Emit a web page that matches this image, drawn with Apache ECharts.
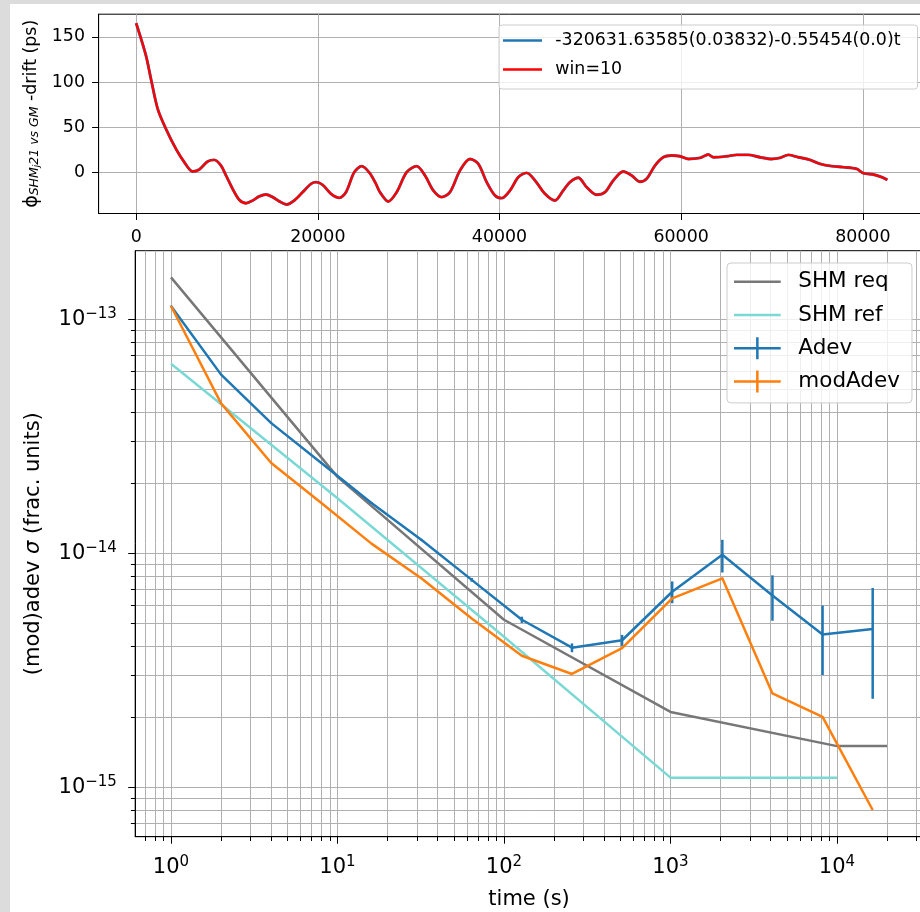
<!DOCTYPE html>
<html><head><meta charset="utf-8">
<script src="https://cdn.jsdelivr.net/npm/echarts@6/dist/echarts.min.js"></script>
<style>
html,body{margin:0;padding:0;background:#dcdcdc;overflow:hidden;}
#paper{position:absolute;left:10px;top:4px;width:910px;height:908px;background:#fff;}
#chart{position:absolute;left:0;top:0;width:920px;height:912px;}
</style></head><body><div id="paper"></div><div id="chart"></div>
<script>
// ---- top panel: phase minus drift (ps) vs time (s)
const driftT = [0,1080,1630,2370,3280,4380,5300,6220,6950,7870,8600,9340,9890,10620,11350,12090,12830,13550,14290,15030,15760,16570,17410,18330,19250,19800,20530,21450,22360,23100,24010,24830,25700,26400,26840,27760,28680,29780,30880,31800,32710,33640,34550,35650,36750,37670,38590,39500,40240,41160,42070,42990,43910,45010,46110,47020,47760,48680,49600,50700,51620,52530,53630,54550,55470,56200,57120,58030,58960,59870,60790,62080,62990,63540,65010,66120,67390,68680,69970,70880,71800,72900,74180,75290,76570,77850,79330,80050,81160,82080,82700];
const driftPhi = [165.2,129.4,103.5,70.4,48.2,26.1,11.4,1.1,3.3,12.2,14.0,7.7,-3.3,-18.1,-30.3,-34.0,-31.0,-26.5,-24.3,-27.3,-32.0,-35.4,-31.0,-21.8,-12.6,-10.7,-13.7,-23.6,-28.1,-21.8,0.3,7.0,-0.5,-12.6,-21.8,-32.1,-21.8,0.3,7.0,-3.3,-19.9,-27.3,-21.8,2.2,15.0,9.5,-10.7,-25.4,-28.4,-19.9,-5.2,-0.4,-8.8,-23.6,-31.0,-19.9,-10.7,-5.9,-16.3,-24.7,-21.8,-8.8,1.1,-3.3,-10.3,-7.0,7.7,16.9,18.8,18.0,15.0,16.2,19.9,16.9,18.0,19.5,19.5,16.9,15.0,16.2,19.5,16.9,14.0,9.5,7.0,5.9,4.0,-0.8,-2.2,-5.2,-8.2];
const fitLabel = '-320631.63585(0.03832)-0.55454(0.0)t';
const winLabel = 'win=10';
const topXTicks = [0,20000,40000,60000,80000];
const topYTicks = [0,50,100,150];

// ---- bottom panel: (mod)adev vs tau
const tau = [1,2,4,8,16,32,64,128,256,512,1024,2048,4096,8192,16384];
const adev = [1.14e-13,5.8e-14,3.6e-14,2.43e-14,1.64e-14,1.14e-14,7.7e-15,5.2e-15,3.95e-15,4.25e-15,6.85e-15,9.85e-15,6.6e-15,4.5e-15,4.75e-15];
const adevErr = [0.3e-15,0.2e-15,0.2e-15,0.15e-15,0.15e-15,0.12e-15,0.14e-15,0.16e-15,0.17e-15,0.23e-15,0.73e-15,1.57e-15,1.45e-15,1.48e-15,2.36e-15];
const modAdev = [1.14e-13,4.37e-14,2.43e-14,1.64e-14,1.1e-14,7.8e-15,5.27e-15,3.65e-15,3.05e-15,3.93e-15,6.42e-15,7.82e-15,2.52e-15,2.0e-15,8.0e-16];
const reqTau = [1,10,100,1000,10000,20000];
const reqVal = [1.51e-13,2.12e-14,5.2e-15,2.1e-15,1.5e-15,1.5e-15];
const refTau = [1,10,100,1000,10000];
const refVal = [6.45e-14,1.72e-14,4.4e-15,1.1e-15,1.1e-15];
const xDecades = [0,1,2,3,4];
const yDecades = [-15,-14,-13];

const FONT = 'DejaVu Sans';
const L = Math.log10;
const xMin = -0.215, xMax = 4.516, yMin = -15.211, yMax = -12.707;

function minorList(nFrom, nTo){ const r=[]; for(let n=nFrom;n<=nTo;n++){ for(let k=2;k<=9;k++) r.push(n+L(k)); } return r; }
const xMinor = minorList(-1,4).filter(v=>v>=xMin&&v<=xMax);
const yMinor = minorList(-16,-13).filter(v=>v>=yMin&&v<=yMax);

function powLabel(v){
  const e = Math.round(v);
  const s = e < 0 ? '\u2212' + (-e) : '' + e;
  return '{b|10}{s|' + s + '}';
}
const powRich = {
  b:{fontFamily:FONT,fontSize:21,lineHeight:26,color:'#000'},
  s:{fontFamily:FONT,fontSize:15,lineHeight:15,padding:[0,0,11,0],color:'#000'}
};

const gridLine = {show:true,lineStyle:{color:'#b0b0b0',width:1}};
const blackLine = {show:true,onZero:false,lineStyle:{color:'#000',width:1}};

const lineIconTop = 'path://M0,0M47.3,14M0,5.75H39V8.25H0Z';
const lineIconBot = 'path://M0,0M59.3,22M0,9.75H46.7V12.25H0Z';
const crossIconBot = 'path://M0,0M59.3,22M0,9.75H22.1V0H24.6V9.75H46.7V12.25H24.6V22H22.1V12.25H0Z';

const C_REQ='#777777', C_REF='#7ad9d5', C_ADEV='#1f77b4', C_MOD='#ff7f0e';

const option = {
  animation:false,
  textStyle:{fontFamily:FONT},
  grid:[
    {left:98.6,top:14.2,width:826.3,height:199.3,show:true,borderColor:'#000',borderWidth:1,backgroundColor:'transparent',outerBoundsMode:'none',containLabel:false},
    {left:135.2,top:250.7,width:787.7,height:586,show:true,borderColor:'#000',borderWidth:1,backgroundColor:'transparent',outerBoundsMode:'none',containLabel:false}
  ],
  xAxis:[
    {type:'value',gridIndex:0,min:-4135,max:86835,position:'bottom',
     axisLine:blackLine,axisTick:{show:true,length:6.5,lineStyle:{color:'#000'},customValues:topXTicks},
     axisLabel:{show:true,margin:13.5,customValues:topXTicks,fontFamily:FONT,fontSize:17.4,lineHeight:20,color:'#000',formatter:v=>String(v)},
     splitLine:gridLine,minorTick:{show:false},minorSplitLine:{show:false}},
    {type:'value',gridIndex:1,min:xMin,max:xMax,position:'bottom',
     name:'time (s)',nameLocation:'middle',nameGap:50,nameMoveOverlap:false,
     nameTextStyle:{fontFamily:FONT,fontSize:21,lineHeight:26,color:'#000'},
     axisLine:blackLine,axisTick:{show:true,length:7,lineStyle:{color:'#000'},customValues:xDecades},
     axisLabel:{show:true,margin:18,customValues:xDecades,formatter:powLabel,rich:powRich},
     splitLine:gridLine},
    {type:'value',gridIndex:1,min:xMin,max:xMax,position:'bottom',
     axisLine:{show:false,onZero:false},axisTick:{show:true,length:4.3,lineStyle:{color:'#000'},customValues:xMinor},
     axisLabel:{show:false},splitLine:gridLine}
  ],
  yAxis:[
    {type:'value',gridIndex:0,min:-45.4,max:175.2,position:'left',
     name:'{p|\u03d5}{s|SHM}{ss|j}{s|21 vs GM}{n| -drift (ps)}',nameLocation:'middle',nameGap:55,nameMoveOverlap:false,
     nameTextStyle:{fontFamily:FONT,fontSize:17.4,lineHeight:24,color:'#000',rich:{
       p:{fontFamily:FONT,fontSize:19,lineHeight:24,color:'#000'},
       s:{fontFamily:FONT,fontSize:12.5,fontStyle:'italic',lineHeight:12,padding:[6,0,0,0],color:'#000'},
       ss:{fontFamily:FONT,fontSize:9,fontStyle:'italic',lineHeight:9,padding:[11,0,0,0],color:'#000'},
       n:{fontFamily:FONT,fontSize:17.4,lineHeight:24,color:'#000'}}},
     axisLine:blackLine,axisTick:{show:true,length:6.5,lineStyle:{color:'#000'},customValues:topYTicks},
     axisLabel:{show:true,margin:13.6,customValues:topYTicks,fontFamily:FONT,fontSize:17.4,color:'#000',formatter:v=>String(v)},
     splitLine:gridLine},
    {type:'value',gridIndex:1,min:yMin,max:yMax,position:'left',
     name:'(mod)adev {i|\u03c3} (frac. units)',nameLocation:'middle',nameGap:89,nameMoveOverlap:false,
     nameTextStyle:{fontFamily:FONT,fontSize:21,lineHeight:26,color:'#000',rich:{i:{fontFamily:FONT,fontSize:21,lineHeight:26,fontStyle:'italic',color:'#000'}}},
     axisLine:blackLine,axisTick:{show:true,length:7,lineStyle:{color:'#000'},customValues:yDecades},
     axisLabel:{show:true,margin:18.3,customValues:yDecades,formatter:powLabel,rich:powRich},
     splitLine:gridLine},
    {type:'value',gridIndex:1,min:yMin,max:yMax,position:'left',
     axisLine:{show:false,onZero:false},axisTick:{show:true,length:4.3,lineStyle:{color:'#000'},customValues:yMinor},
     axisLabel:{show:false},splitLine:gridLine}
  ],
  legend:[
    {orient:'vertical',left:499,top:25,padding:[7,17,11,4],itemWidth:47.3,itemHeight:14,itemGap:12,
     backgroundColor:'rgba(255,255,255,0.8)',borderColor:'#cccccc',borderWidth:1,borderRadius:3,
     textStyle:{fontFamily:FONT,fontSize:17.4,color:'#000'},selectedMode:false,
     data:[{name:fitLabel,icon:lineIconTop,itemStyle:{color:C_ADEV}},{name:winLabel,icon:lineIconTop,itemStyle:{color:'#ff0000'}}]},
    {orient:'vertical',left:727,top:263,padding:[7.7,12,10.3,7],itemWidth:59.3,itemHeight:22,itemGap:11.3,
     backgroundColor:'rgba(255,255,255,0.8)',borderColor:'#cccccc',borderWidth:1,borderRadius:4,
     textStyle:{fontFamily:FONT,fontSize:21.5,color:'#000'},selectedMode:false,
     data:[{name:'SHM req',icon:lineIconBot,itemStyle:{color:C_REQ}},{name:'SHM ref',icon:lineIconBot,itemStyle:{color:C_REF}},
           {name:'Adev',icon:crossIconBot,itemStyle:{color:C_ADEV}},{name:'modAdev',icon:crossIconBot,itemStyle:{color:C_MOD}}]}
  ],
  series:[
    {type:'line',name:fitLabel,xAxisIndex:0,yAxisIndex:0,showSymbol:false,smooth:0.3,
     data:driftT.map((t,i)=>[t,driftPhi[i]]),lineStyle:{color:C_ADEV,width:2.9},itemStyle:{color:C_ADEV}},
    {type:'line',name:winLabel,xAxisIndex:0,yAxisIndex:0,showSymbol:false,smooth:0.3,
     data:driftT.map((t,i)=>[t,driftPhi[i]]),lineStyle:{color:'#ff0000',width:2.4},itemStyle:{color:'#ff0000'}},
    {type:'line',name:'SHM req',xAxisIndex:1,yAxisIndex:1,showSymbol:false,
     data:reqTau.map((t,i)=>[L(t),L(reqVal[i])]),lineStyle:{color:C_REQ,width:2.5,join:'round'},itemStyle:{color:C_REQ}},
    {type:'line',name:'SHM ref',xAxisIndex:1,yAxisIndex:1,showSymbol:false,
     data:refTau.map((t,i)=>[L(t),L(refVal[i])]),lineStyle:{color:C_REF,width:2.5,join:'round'},itemStyle:{color:C_REF}},
    {type:'line',name:'Adev',xAxisIndex:1,yAxisIndex:1,showSymbol:false,
     data:tau.map((t,i)=>[L(t),L(adev[i])]),lineStyle:{color:C_ADEV,width:2.5,join:'round'},itemStyle:{color:C_ADEV}},
    {type:'custom',name:'Adev err',xAxisIndex:1,yAxisIndex:1,
     data:tau.map((t,i)=>[L(t),L(adev[i]-adevErr[i]),L(adev[i]+adevErr[i])]),
     encode:{x:0,y:[1,2]},
     renderItem:function(params,api){
       const p1=api.coord([api.value(0),api.value(1)]);
       const p2=api.coord([api.value(0),api.value(2)]);
       return {type:'line',shape:{x1:p1[0],y1:p1[1],x2:p2[0],y2:p2[1]},style:{stroke:C_ADEV,lineWidth:2.5}};
     }},
    {type:'line',name:'modAdev',xAxisIndex:1,yAxisIndex:1,showSymbol:false,
     data:tau.map((t,i)=>[L(t),L(modAdev[i])]),lineStyle:{color:C_MOD,width:2.5,join:'round'},itemStyle:{color:C_MOD}}
  ]
};
const chart = echarts.init(document.getElementById('chart'),null,{renderer:'canvas'});
chart.setOption(option);
</script></body></html>
